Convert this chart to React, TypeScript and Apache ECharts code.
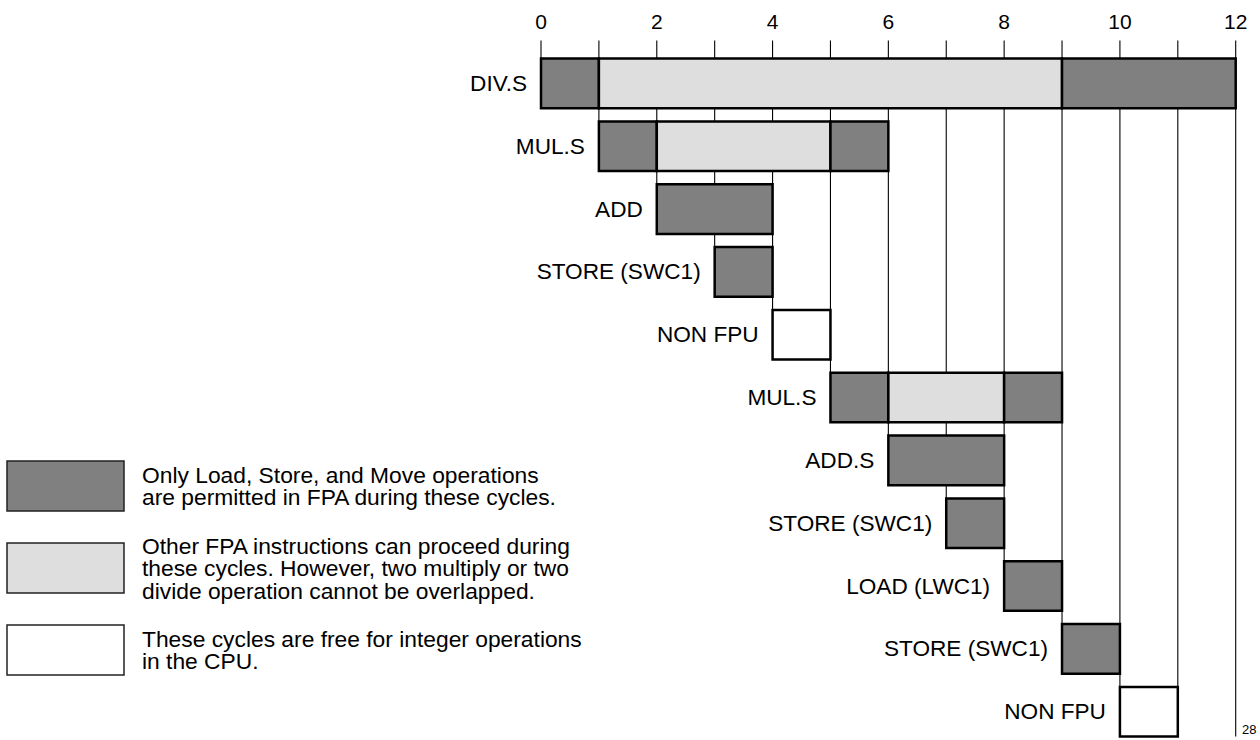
import React, { useEffect, useRef } from "react";
import * as echarts from "echarts";

const FONT = "'Liberation Sans', Arial, Helvetica, sans-serif";

// Instruction rows, top to bottom
const rowLabels = [
  "DIV.S",
  "MUL.S",
  "ADD",
  "STORE (SWC1)",
  "NON FPU",
  "MUL.S",
  "ADD.S",
  "STORE (SWC1)",
  "LOAD (LWC1)",
  "STORE (SWC1)",
  "NON FPU",
];

// Cycle segments: row index, start cycle, end cycle, kind (0 = dark, 1 = light, 2 = free)
const segRow = [0, 0, 0, 1, 1, 1, 2, 3, 4, 5, 5, 5, 6, 7, 8, 9, 10];
const segStart = [0, 1, 9, 1, 2, 5, 2, 3, 4, 5, 6, 8, 6, 7, 8, 9, 10];
const segEnd = [1, 9, 12, 2, 5, 6, 4, 4, 5, 6, 8, 9, 8, 8, 9, 10, 11];
const segKind = [0, 1, 0, 0, 1, 0, 0, 0, 2, 0, 1, 0, 0, 0, 0, 0, 2];

// Cycle ticks (vertical lines)
const cycleTicks = [0, 1, 2, 3, 4, 5, 6, 7, 8, 9, 10, 11, 12];

const kindColors = ["#808080", "#dedede", "#ffffff"];
const kindLegend = [
  "Only Load, Store, and Move operations\nare permitted in FPA during these cycles.",
  "Other FPA instructions can proceed during\nthese cycles. However, two multiply or two\ndivide operation cannot be overlapped.",
  "These cycles are free for integer operations\nin the CPU.",
];

const pageNumber = "28";

export default function App() {
  const ref = useRef<HTMLDivElement>(null);

  useEffect(() => {
    if (!ref.current) return;
    const chart = echarts.init(ref.current, null, { renderer: "svg" });

    const segData = segRow.map((r, i) => [segStart[i], segEnd[i], r, segKind[i]]);
    const rowStart = rowLabels.map((_, r) => {
      let m = Infinity;
      segRow.forEach((sr, i) => {
        if (sr === r) m = Math.min(m, segStart[i]);
      });
      return m;
    });
    const labelData = rowLabels.map((_, r) => [rowStart[r], r]);
    const gridData = cycleTicks.map((k) => [k, rowStart.findIndex((s) => s === k)]);
    const lastRow = rowLabels.length - 1;
    const BAR = 0.79;

    const legendTops = [461, 543, 625];
    const legendGraphics: any[] = [];
    kindLegend.forEach((txt, i) => {
      legendGraphics.push({
        type: "rect",
        shape: { x: 7, y: legendTops[i], width: 117, height: 50 },
        style: { fill: kindColors[i], stroke: "#222", lineWidth: 1.5 },
      });
      legendGraphics.push({
        type: "text",
        x: 142,
        y: legendTops[i] + 25,
        style: {
          text: txt,
          fill: "#000",
          font: `22.8px ${FONT}`,
          lineHeight: 22.5,
          verticalAlign: "middle",
          align: "left",
        },
      });
    });
    legendGraphics.push({
      type: "text",
      x: 1242,
      y: 729,
      style: { text: pageNumber, fill: "#000", font: `13px ${FONT}`, verticalAlign: "middle" },
    });

    chart.setOption({
      animation: false,
      backgroundColor: "#ffffff",
      grid: { left: 541, right: 24.3, top: 83.4, bottom: 28.3, containLabel: false },
      xAxis: {
        type: "value",
        position: "top",
        min: 0,
        max: 12,
        interval: 2,
        axisLine: { show: false },
        axisTick: { show: false },
        splitLine: { show: false },
        axisLabel: { fontSize: 21, color: "#000", fontFamily: FONT, margin: 51 },
      },
      yAxis: {
        type: "value",
        min: 0,
        max: lastRow,
        inverse: true,
        show: false,
      },
      graphic: legendGraphics,
      series: [
        {
          type: "custom",
          clip: false,
          data: gridData,
          renderItem: (params: any, api: any) => {
            const k = api.value(0);
            const stop = api.value(1);
            const barH = api.size([0, 1])[1] * BAR;
            const x = api.coord([k, 0])[0];
            const y1 = params.coordSys.y - 43;
            const y2 =
              stop >= 0
                ? api.coord([k, stop])[1] - barH / 2
                : api.coord([k, lastRow])[1] + barH / 2;
            return {
              type: "line",
              shape: { x1: x, y1, x2: x, y2 },
              style: { stroke: "#000", lineWidth: 1.1 },
            };
          },
        },
        {
          type: "custom",
          clip: false,
          data: segData,
          renderItem: (params: any, api: any) => {
            const s = api.value(0);
            const e = api.value(1);
            const r = api.value(2);
            const kind = api.value(3);
            const barH = api.size([0, 1])[1] * BAR;
            const p0 = api.coord([s, r]);
            const p1 = api.coord([e, r]);
            return {
              type: "rect",
              shape: { x: p0[0], y: p0[1] - barH / 2, width: p1[0] - p0[0], height: barH },
              style: { fill: kindColors[kind], stroke: "#000", lineWidth: 2.5 },
            };
          },
        },
        {
          type: "custom",
          clip: false,
          data: labelData,
          renderItem: (params: any, api: any) => {
            const s = api.value(0);
            const r = api.value(1);
            const p = api.coord([s, r]);
            return {
              type: "text",
              x: p[0] - 14,
              y: p[1],
              style: {
                text: rowLabels[params.dataIndex],
                fill: "#000",
                font: `22.6px ${FONT}`,
                align: "right",
                verticalAlign: "middle",
              },
            };
          },
        },
      ],
    });

    return () => chart.dispose();
  }, []);

  return (
    <div
      ref={ref}
      style={{ position: "absolute", left: 0, top: 0, width: 1260, height: 740, background: "#fff" }}
    />
  );
}
